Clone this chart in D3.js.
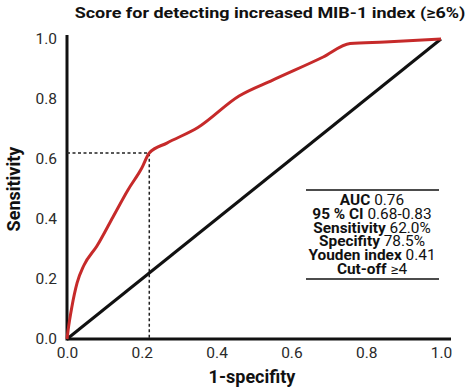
<!DOCTYPE html>
<html>
<head>
<meta charset="utf-8">
<script src="https://cdn.jsdelivr.net/npm/d3@7"></script>
<style>
  body { margin: 0; background: #fff; }
  text { font-family: Roboto, "Liberation Sans", sans-serif; }
</style>
</head>
<body>
<div id="chart"></div>
<script>
var width = 474;
var height = 388;

// ROC curve (1-specificity, sensitivity)
var rocFpr = [0, 0.003, 0.013, 0.027, 0.045, 0.08, 0.123, 0.163, 0.2, 0.22, 0.267, 0.35, 0.46, 0.55, 0.685, 0.757, 0.85, 1.0];
var rocTpr = [0, 0.03, 0.107, 0.187, 0.245, 0.31, 0.407, 0.497, 0.57, 0.62, 0.653, 0.705, 0.81, 0.863, 0.94, 0.985, 0.99, 1.0];
var cutoff = [0.22, 0.62];
var ticks = [0, 0.2, 0.4, 0.6, 0.8, 1.0];
var statLabels = ["AUC", "95 % CI", "Sensitivity", "Specifity", "Youden index", "Cut-off"];
var statValues = ["0.76", "0.68-0.83", "62.0%", "78.5%", "0.41", "≥4"];

var svg = d3.select("#chart").append("svg")
  .attr("width", width)
  .attr("height", height);

var x = d3.scaleLinear().domain([0, 1]).range([67, 441]);
var y = d3.scaleLinear().domain([0, 1]).range([339, 39]);

// title (the source text is a bit stretched sideways)
svg.append("text")
  .attr("transform", "translate(270,18) scale(1.16,1)")
  .attr("text-anchor", "middle")
  .style("font-size", "15.5px").style("font-weight", "bold")
  .attr("fill", "#111")
  .text("Score for detecting increased MIB-1 index (≥6%)");

// axes
var axisX = d3.axisBottom(x).tickValues(ticks).tickFormat(d3.format(".1f")).tickSize(0).tickPadding(8);
var axisY = d3.axisLeft(y).tickValues(ticks).tickFormat(d3.format(".1f")).tickSize(0).tickPadding(10);

var gx = svg.append("g").attr("transform", "translate(0," + y(0) + ")").call(axisX);
var gy = svg.append("g").attr("transform", "translate(" + x(0) + ",0)").call(axisY);
gx.select(".domain").remove();
gy.select(".domain").remove();
svg.selectAll(".tick text").style("font-size", "15.5px").attr("fill", "#2a2a2a");

svg.append("line")
  .attr("x1", x(0)).attr("x2", x(1) + 10)
  .attr("y1", y(0)).attr("y2", y(0))
  .attr("stroke", "#111").attr("stroke-width", 3);
svg.append("line")
  .attr("x1", x(0)).attr("x2", x(0))
  .attr("y1", y(0) + 1.5).attr("y2", y(1) - 4)
  .attr("stroke", "#111").attr("stroke-width", 3);

// axis titles
svg.append("text")
  .attr("x", 252).attr("y", 383)
  .attr("text-anchor", "middle")
  .style("font-size", "18px").style("font-weight", "bold")
  .attr("fill", "#111")
  .text("1-specifity");
svg.append("text")
  .attr("transform", "translate(20," + y(0.5) + ") rotate(-90)")
  .attr("text-anchor", "middle")
  .style("font-size", "18px").style("font-weight", "bold")
  .attr("fill", "#111")
  .text("Sensitivity");

// cutoff dotted lines
svg.append("path")
  .attr("d", d3.line()([[x(0), y(cutoff[1])], [x(cutoff[0]), y(cutoff[1])], [x(cutoff[0]), y(0)]]))
  .attr("fill", "none")
  .attr("stroke", "#222").attr("stroke-width", 1.5)
  .attr("stroke-dasharray", "3,2.5");

// reference diagonal
svg.append("line")
  .attr("x1", x(0)).attr("y1", y(0))
  .attr("x2", x(1)).attr("y2", y(1))
  .attr("stroke", "#111").attr("stroke-width", 3);

// ROC curve
var rocData = rocFpr.map(function (d, i) { return [d, rocTpr[i]]; });
var line = d3.line()
  .x(function (d) { return x(d[0]); })
  .y(function (d) { return y(d[1]); })
  .curve(d3.curveMonotoneX);
svg.append("path")
  .datum(rocData)
  .attr("d", line)
  .attr("fill", "none")
  .attr("stroke", "#c62a2a").attr("stroke-width", 3)
  .attr("stroke-linejoin", "round");

// stats box
var boxCx = 372;
svg.append("line").attr("x1", 306).attr("x2", 439).attr("y1", 190).attr("y2", 190)
  .attr("stroke", "#111").attr("stroke-width", 1.5);
svg.append("line").attr("x1", 306).attr("x2", 439).attr("y1", 279).attr("y2", 279)
  .attr("stroke", "#111").attr("stroke-width", 1.5);

var rows = svg.selectAll(".stat")
  .data(statLabels)
  .enter()
  .append("text")
  .attr("class", "stat")
  .attr("transform", function (d, i) { return "translate(" + boxCx + "," + (205 + i * 13.8) + ") scale(1.1,1)"; })
  .attr("text-anchor", "middle")
  .style("font-size", "14px")
  .attr("fill", "#111");
rows.append("tspan").style("font-weight", "bold").text(function (d) { return d + " "; });
rows.append("tspan").text(function (d, i) { return statValues[i]; });
</script>
</body>
</html>
